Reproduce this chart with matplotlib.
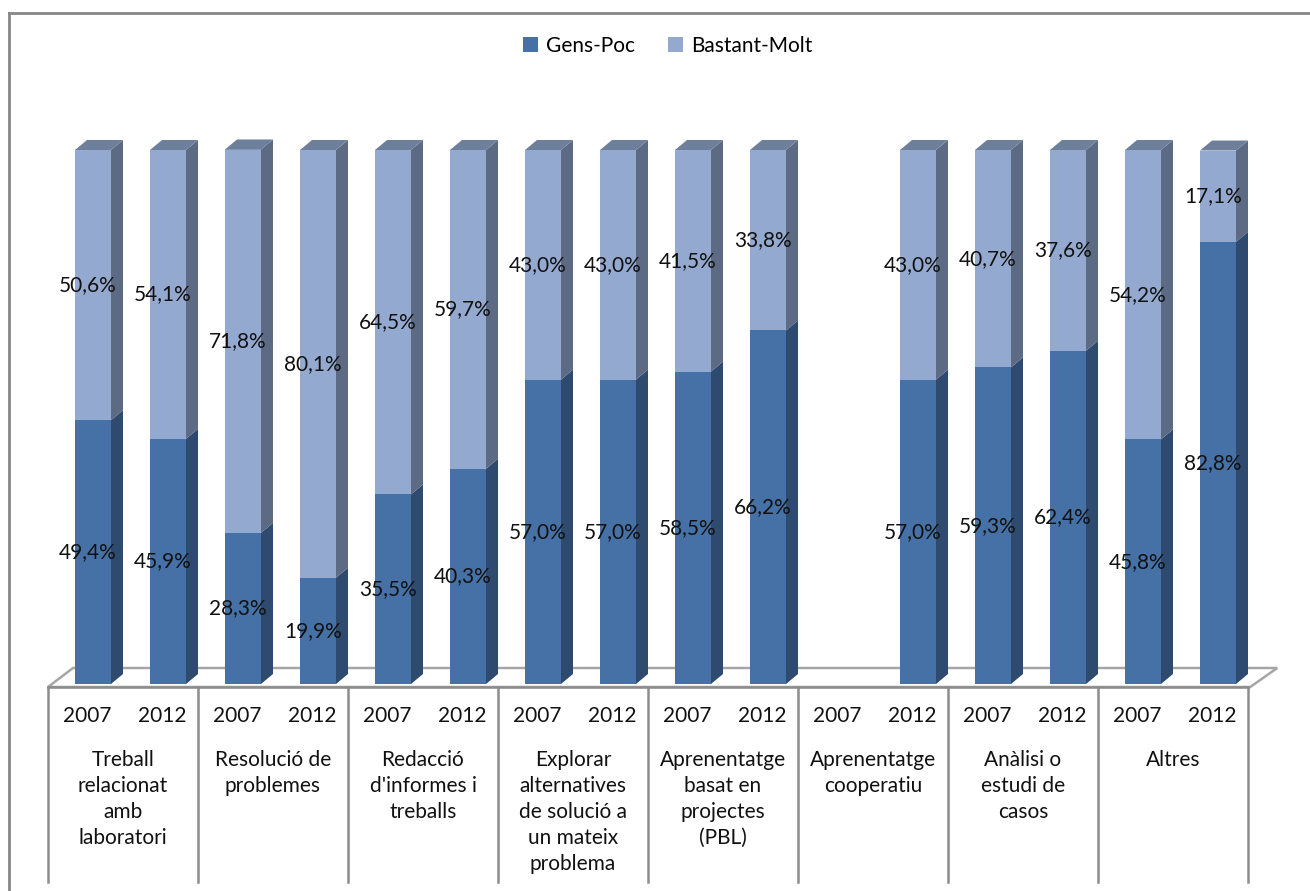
import numpy as np
import matplotlib.pyplot as plt
from matplotlib.patches import Polygon, Patch

# data
categories = ["Treball\nrelacionat\namb\nlaboratori", "Resolució de\nproblemes",
              "Redacció\nd'informes i\ntreballs",
              "Explorar\nalternatives\nde solució a\nun mateix\nproblema",
              "Aprenentatge\nbasat en\nprojectes\n(PBL)", "Aprenentatge\ncooperatiu",
              "Anàlisi o\nestudi de\ncasos", "Altres"]
years = ["2007", "2012"]
gens_poc = [49.4, 45.9, 28.3, 19.9, 35.5, 40.3, 57.0, 57.0, 58.5, 66.2,
            np.nan, 57.0, 59.3, 62.4, 45.8, 82.8]
bastant_molt = [50.6, 54.1, 71.8, 80.1, 64.5, 59.7, 43.0, 43.0, 41.5, 33.8,
                np.nan, 43.0, 40.7, 37.6, 54.2, 17.1]

plt.rcParams['font.family'] = ['Lato', 'DejaVu Sans']
FS = 15

W, H = 1310, 891
fig = plt.figure(figsize=(W / 100, H / 100), dpi=100)
ax = fig.add_axes([0, 0, 1, 1])
ax.axis('off')

# map: x unit = one bar slot (75 px), y unit = percent (5.34 px)
px_x, x0_px = 75.0, 48.0
px_y, y0_px = 5.34, 684.0
ax.set_xlim(-x0_px / px_x, (W - x0_px) / px_x)
ax.set_ylim(-(H - y0_px) / px_y, y0_px / px_y)

dx, dy = 12 / px_x, 10 / px_y
bar_l, bar_r = 27 / px_x, 63 / px_x

front = {'g': '#4571A6', 'b': '#94A9CF'}
side = {'g': '#2E4A6E', 'b': '#5C6A83'}
top = {'g': '#3A5E8B', 'b': '#6E7F9C'}
grid_c = '#8C8C8C'

n = len(gens_poc)

# floor
floor_front = -3 / px_y
floor_back = (y0_px - 668) / px_y
ax.add_patch(Polygon([(0, floor_front), (16.03, floor_front),
                      (16.03 + 27 / px_x, floor_back), (25 / px_x, floor_back)],
                     closed=True, facecolor='white', edgecolor='#A6A6A6', lw=1.8, zorder=1))

# bars
for i in range(n):
    g, b = gens_poc[i], bastant_molt[i]
    if np.isnan(g):
        continue
    xl, xr = i + bar_l, i + bar_r
    segs = [(0, g, 'g'), (g, g + b, 'b')]
    for y_lo, y_hi, k in segs:
        ax.add_patch(Polygon([(xr, y_lo), (xr + dx, y_lo + dy), (xr + dx, y_hi + dy), (xr, y_hi)],
                             closed=True, facecolor=side[k], edgecolor='none', zorder=2))
        ax.add_patch(Polygon([(xl, y_lo), (xr, y_lo), (xr, y_hi), (xl, y_hi)],
                             closed=True, facecolor=front[k], edgecolor='none', zorder=3))
    yt = g + b
    ax.add_patch(Polygon([(xl, yt), (xr, yt), (xr + dx, yt + dy), (xl + dx, yt + dy)],
                         closed=True, facecolor=top['b'], edgecolor='none', zorder=3))
    xc = i + 0.53
    ax.text(xc, g / 2, f"{g:.1f}%".replace('.', ','), ha='center', va='center',
            fontsize=FS, color='#111111', zorder=5)
    ax.text(xc, g + b / 2, f"{b:.1f}%".replace('.', ','), ha='center', va='center',
            fontsize=FS, color='#111111', zorder=5)

# category axis table
y_bot = -(882 - y0_px) / px_y
ax.plot([0, 16], [floor_front, floor_front], color=grid_c, lw=1.8, zorder=1)
for k in range(0, n + 1, 2):
    ax.plot([k, k], [floor_front, y_bot], color=grid_c, lw=1.8, zorder=1)

y_year = -(716 - y0_px) / px_y
y_cat = -(750 - y0_px) / px_y
for i in range(n):
    ax.text(i + 0.53, y_year, years[i % 2], ha='center', va='center', fontsize=FS, color='#111111')
for j, cat in enumerate(categories):
    ax.text(2 * j + 1, y_cat, cat, ha='center', va='top', fontsize=FS,
            color='#111111', linespacing=1.38)

# outer border
fig.add_artist(plt.Line2D([9 / W, 9 / W], [0, 1 - 13 / H], color='#868686', lw=2))
fig.add_artist(plt.Line2D([9 / W, 1], [1 - 13 / H, 1 - 13 / H], color='#868686', lw=2))

# legend
handles = [Patch(facecolor=front['g'], label='Gens-Poc'),
           Patch(facecolor=front['b'], label='Bastant-Molt')]
fig.legend(handles=handles, loc='center', bbox_to_anchor=(668 / W, 1 - 46 / H), ncol=2,
           frameon=False, fontsize=FS, handlelength=0.7, handleheight=0.7,
           handletextpad=0.4, columnspacing=1.6)

fig.savefig('out.png', dpi=100, facecolor='white')
